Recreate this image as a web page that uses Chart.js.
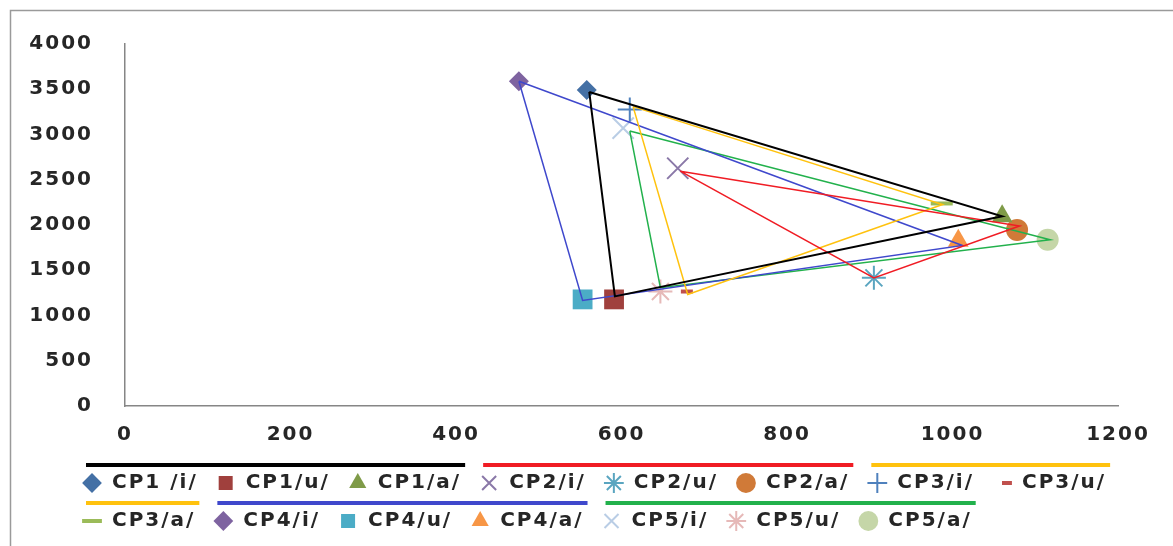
<!DOCTYPE html>
<html>
<head>
<meta charset="utf-8">
<script src="https://cdn.jsdelivr.net/npm/chart.js@4.4.1/dist/chart.umd.min.js"></script>
<style>
  html, body { margin: 0; padding: 0; background: #fff; }
  canvas { display: block; }
</style>
</head>
<body>
<canvas id="chart" width="1173" height="546"></canvas>
<script>
// vowel points, one per legend entry
const pointLabels = ['CP1 /i/', 'CP1/u/', 'CP1/a/', 'CP2/i/', 'CP2/u/', 'CP2/a/', 'CP3/i/', 'CP3/u/',
  'CP3/a/', 'CP4/i/', 'CP4/u/', 'CP4/a/', 'CP5/i/', 'CP5/u/', 'CP5/a/']
const pointX = [558, 591, 1060, 668, 905, 1078, 610, 679, 987, 476, 553, 1007, 602, 647, 1115]
const pointY = [3492, 1178, 2097, 2627, 1416, 1946, 3276, 1265, 2238, 3589, 1178, 1827, 3070, 1265, 1838]

// triangle outlines per speaker: /i/, /u/, /a/
const cp1X = [561, 592, 1060]
const cp1Y = [3470, 1211, 2097]
const cp2X = [671, 905, 1081]
const cp2Y = [2595, 1416, 1989]
const cp3X = [614, 680, 988]
const cp3Y = [3308, 1233, 2227]
const cp4X = [476, 553, 1012]
const cp4Y = [3589, 1167, 1773]
const cp5X = [610, 647, 1118]
const cp5Y = [3038, 1308, 1838]

// styles
const lineColors = ['#000000', '#F01C24', '#FFC20E', '#3F48CC', '#22B14C']
const lineWidths = [2, 1.5, 1.5, 1.5, 1.5]
const markerColor = ['#4470A5', '#A0403D', '#7F9B48', '#8A78A8', '#5AA5C0', '#D07A38', '#4F81BD', '#C0504D',
  '#9BBB59', '#7E63A0', '#4BACC6', '#F79646', '#B9CDE5', '#E6B9B8', '#C5D6A8']
const markerStyle = ['rectRot', 'rect', 'triangle', 'crossRot', 'star', 'circle', 'cross', 'line',
  'line', 'rectRot', 'rect', 'triangle', 'crossRot', 'star', 'circle']
const legendStyle = markerStyle.map((s, i) => i === 7 ? 'dash' : s)
const markerRadius = [10, 14, 12, 15, 12, 11, 12, 6, 11, 10, 14, 12, 15, 12, 11]
const markerBorder = [0, 0, 0, 2, 2, 0, 2, 4, 4, 0, 0, 0, 2, 2, 0]
const groups = [[0, 1, 2], [3, 4, 5], [6, 7, 8], [9, 10, 11], [12, 13, 14]]

const FONT = { family: 'DejaVu Sans', size: 20, weight: 'bold' }
const TEXT = '#262626'
const SPACING = '2px'
const LEGEND_LEFT = 64

const triangles = [[cp1X, cp1Y], [cp2X, cp2Y], [cp3X, cp3Y], [cp4X, cp4Y], [cp5X, cp5Y]]

const lineDatasets = triangles.map(([xs, ys], k) => ({
  label: 'CP' + (k + 1),
  data: [0, 1, 2, 0].map(j => ({ x: xs[j], y: ys[j] })),
  showLine: true,
  borderColor: lineColors[k],
  borderWidth: lineWidths[k],
  pointRadius: 0,
  fill: false,
  order: 0
}))

const markerDatasets = pointLabels.map((label, i) => ({
  label,
  data: [{ x: pointX[i], y: pointY[i] }],
  pointStyle: markerStyle[i],
  pointRadius: markerRadius[i],
  pointBackgroundColor: markerColor[i],
  pointBorderColor: markerColor[i],
  pointBorderWidth: markerBorder[i],
  order: 1
}))

// canvas letter spacing (the reference text is wide), background and frame
const spacing = {
  id: 'spacing',
  beforeUpdate (chart) { chart.ctx.letterSpacing = SPACING },
  beforeLayout (chart) { chart.ctx.letterSpacing = SPACING },
  afterLayout (chart) {
    // legend rows start further right than the plot's padding
    if (chart.legend) chart.legend.left = LEGEND_LEFT
  },
  beforeDraw (chart) {
    const ctx = chart.ctx
    ctx.letterSpacing = SPACING
    ctx.save()
    ctx.fillStyle = '#fff'
    ctx.fillRect(0, 0, chart.width, chart.height)
    ctx.strokeStyle = '#9a9a9a'
    ctx.lineWidth = 1.5
    ctx.strokeRect(10.5, 10.5, 1180, 600)
    ctx.restore()
  }
}

// coloured bars over each speaker's legend entries
const groupBars = {
  id: 'groupBars',
  afterDraw (chart) {
    const boxes = chart.legend.legendHitBoxes
    if (!boxes || !boxes.length) return
    const ctx = chart.ctx
    ctx.save()
    ctx.lineWidth = 4
    groups.forEach((g, k) => {
      const rows = {}
      g.forEach(i => {
        const b = boxes[i]
        const r = rows[b.top] || (rows[b.top] = { left: b.left, right: b.left + b.width, top: b.top })
        r.left = Math.min(r.left, b.left)
        r.right = Math.max(r.right, b.left + b.width)
      })
      Object.values(rows).forEach(r => {
        ctx.beginPath()
        ctx.strokeStyle = lineColors[k]
        ctx.moveTo(r.left + 4, r.top - 8)
        ctx.lineTo(r.right + 4, r.top - 8)
        ctx.stroke()
      })
    })
    ctx.restore()
  }
}

new Chart(document.getElementById('chart'), {
  type: 'scatter',
  data: { datasets: [...lineDatasets, ...markerDatasets] },
  options: {
    responsive: false,
    animation: false,
    devicePixelRatio: 1,
    layout: { padding: { left: 10, right: 20, top: 36, bottom: 5 } },
    scales: {
      x: {
        type: 'linear',
        min: 0,
        max: 1200,
        ticks: { stepSize: 200, font: FONT, color: TEXT, padding: 17, callback: v => String(v) },
        grid: { display: true, color: 'transparent', drawTicks: false },
        border: { display: true, color: '#868686', width: 1.5 },
        afterFit (s) { s.height = 49 }
      },
      y: {
        type: 'linear',
        min: 0,
        max: 4000,
        ticks: { stepSize: 500, font: FONT, color: TEXT, padding: 32, callback: v => String(v) },
        grid: { display: true, color: 'transparent', drawTicks: false },
        border: { display: true, color: '#868686', width: 1.5 },
        afterFit (s) { s.width = 115 }
      },
      yR: {
        type: 'linear',
        position: 'right',
        display: true,
        ticks: { display: false },
        grid: { display: false },
        border: { display: false },
        afterFit (s) { s.width = 35 }
      }
    },
    plugins: {
      tooltip: { enabled: false },
      legend: {
        position: 'bottom',
        align: 'start',
        labels: {
          usePointStyle: true,
          boxWidth: 20,
          boxHeight: 14,
          padding: 18,
          font: FONT,
          color: TEXT,
          generateLabels: () => pointLabels.map((text, i) => ({
            text,
            datasetIndex: lineDatasets.length + i,
            pointStyle: legendStyle[i],
            fillStyle: markerColor[i],
            strokeStyle: markerColor[i],
            lineWidth: markerBorder[i],
            fontColor: TEXT,
            hidden: false
          }))
        }
      }
    }
  },
  plugins: [spacing, groupBars]
})
</script>
</body>
</html>
